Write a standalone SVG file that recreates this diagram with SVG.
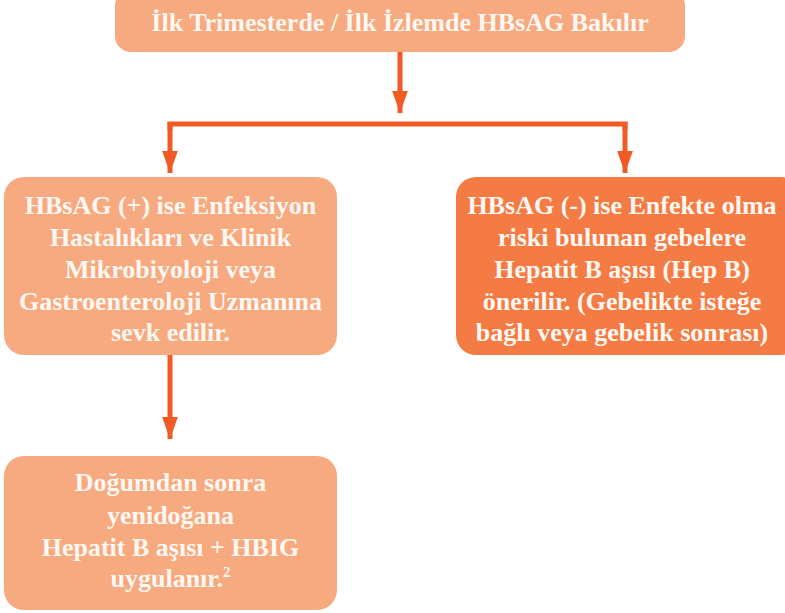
<svg xmlns="http://www.w3.org/2000/svg" width="785" height="613" viewBox="0 0 785 613">
<defs>
<marker id="ah" markerUnits="userSpaceOnUse" markerWidth="22" markerHeight="30" refX="28" refY="10" orient="auto" viewBox="0 0 28 20">
<path d="M0,0 L28,10 L0,20 Z" fill="#F15A24"/>
</marker>
<style>
.light{fill:#F7A97F}
.dark{fill:#F47B43}
.t{font-family:"Liberation Serif","Times New Roman",serif;font-weight:bold;font-size:26px;fill:#FFF8F2;text-anchor:middle}
.c{stroke:#F15A24;stroke-width:5;fill:none}
</style>
</defs>
<rect width="785" height="613" fill="#FFFFFF"/>
<g id="connectors">
<path class="c" d="M400,52 L400,113" marker-end="url(#ah)"/>
<path class="c" d="M170,130 L170,124 L625,124 L625,130"/>
<path class="c" d="M170,122 L170,173" marker-end="url(#ah)"/>
<path class="c" d="M625,122 L625,173" marker-end="url(#ah)"/>
<path class="c" d="M170,355 L170,439" marker-end="url(#ah)"/>
</g>
<g id="n_top">
<rect class="light" x="115" y="-10" width="570" height="62" rx="16"/>
<text class="t" x="400" y="31">İlk Trimesterde / İlk İzlemde HBsAG Bakılır</text>
</g>
<g id="n_pos">
<rect class="light" x="4" y="177" width="333" height="178" rx="20"/>
<text class="t" x="170.5" y="214">HBsAG (+) ise Enfeksiyon</text>
<text class="t" x="170.5" y="246">Hastalıkları ve Klinik</text>
<text class="t" x="170.5" y="278">Mikrobiyoloji veya</text>
<text class="t" x="170.5" y="310">Gastroenteroloji Uzmanına</text>
<text class="t" x="170.5" y="341">sevk edilir.</text>
</g>
<g id="n_neg">
<rect class="dark" x="456" y="177" width="345" height="178" rx="20"/>
<text class="t" x="622" y="214">HBsAG (-) ise Enfekte olma</text>
<text class="t" x="622" y="246">riski bulunan gebelere</text>
<text class="t" x="622" y="278">Hepatit B aşısı (Hep B)</text>
<text class="t" x="622" y="310">önerilir. (Gebelikte isteğe</text>
<text class="t" x="622" y="341">bağlı veya gebelik sonrası)</text>
</g>
<g id="n_birth">
<rect class="light" x="4" y="456" width="333" height="154" rx="20"/>
<text class="t" x="170.5" y="491">Doğumdan sonra</text>
<text class="t" x="170.5" y="524">yenidoğana</text>
<text class="t" x="170.5" y="556">Hepatit B aşısı + HBIG</text>
<text class="t" x="170.5" y="587">uygulanır.<tspan font-size="15" dy="-10">2</tspan></text>
</g>
</svg>
